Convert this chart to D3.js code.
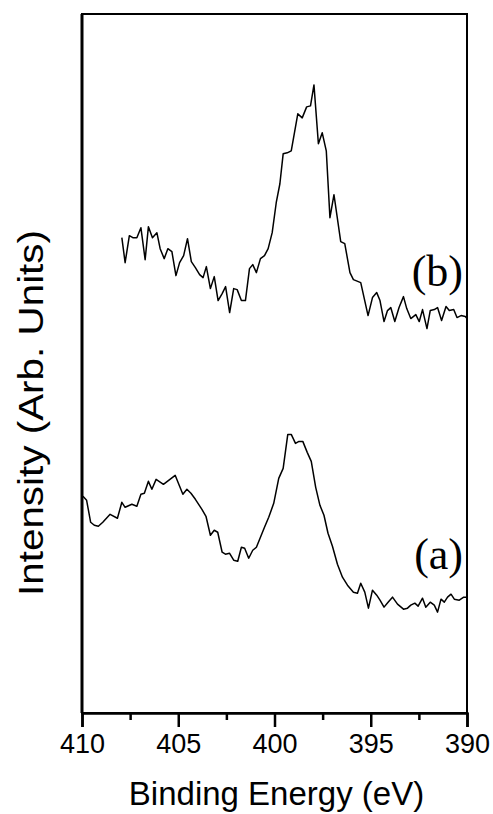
<!DOCTYPE html>
<html>
<head>
<meta charset="utf-8">
<script src="https://cdn.jsdelivr.net/npm/d3@7"></script>
<style>
  html, body { margin: 0; padding: 0; background: #fff; }
  svg { display: block; }
</style>
</head>
<body>
<svg id="chart" width="493" height="814"></svg>
<script>
// Binding energy (eV) and intensity (arb. units) for spectrum (b)
const energyB = [407.93,407.76,407.54,407.36,407.15,406.94,406.72,406.55,406.34,406.11,405.94,405.73,405.54,405.33,405.12,404.93,404.72,404.52,404.32,404.11,403.89,403.71,403.54,403.33,403.13,402.93,402.72,402.54,402.33,402.12,401.94,401.72,401.51,401.30,401.13,400.94,400.73,400.52,400.33,400.12,399.91,399.72,399.55,399.34,399.13,398.79,398.56,398.33,398.13,397.95,397.72,397.52,397.31,397.12,396.91,396.56,396.35,396.08,395.90,395.52,395.14,394.91,394.69,394.52,394.31,394.13,393.96,393.75,393.53,393.30,393.13,392.92,392.66,392.48,392.31,392.08,391.91,391.70,391.53,391.32,391.09,390.92,390.69,390.52,390.31,390.09,390.00];
const intensityB = [476,451,478,476,476,486,454,487,476,481,465,455,465,462,438,451,458,475,452,446,439,436,447,425,437,413,420,427,401,425,424,413,413,445,449,441,455,458,465,481,511,530,560,561,563,600,596,607,608,629,570,581,563,496,519,472,470,441,434,431,398,416,421,413,392,403,406,392,406,417,405,395,399,392,404,385,403,404,406,393,407,403,404,396,398,397,395];

// Spectrum (a)
const energyA = [409.95,409.76,409.55,409.36,409.15,408.92,408.54,408.16,407.93,407.76,407.41,407.15,406.94,406.76,406.55,406.37,406.15,405.77,405.16,404.95,404.76,404.55,404.34,404.11,403.77,403.56,403.33,403.13,402.95,402.72,402.55,402.34,402.12,401.91,401.72,401.55,401.34,401.13,400.94,400.73,400.52,400.30,400.04,399.78,399.55,399.31,399.13,398.91,398.73,398.53,398.30,398.09,397.86,397.64,397.43,397.22,396.99,396.73,396.47,396.21,395.90,395.69,395.52,395.31,395.12,394.91,394.69,394.52,394.31,394.10,393.87,393.61,393.30,393.09,392.92,392.71,392.54,392.31,392.14,391.91,391.70,391.53,391.35,391.18,391.01,390.83,390.66,390.40,390.17,390.00];
const intensityA = [217,213,191,188,187,191,199,195,211,206,209,207,219,220,232,224,234,229,238,228,219,224,220,214,204,197,178,183,181,161,159,160,153,152,166,165,155,163,166,176,186,196,210,235,245,279,279,270,272,272,261,252,226,208,198,180,167,149,136,128,121,120,130,121,105,123,118,113,106,111,116,109,104,105,108,110,107,115,106,111,108,101,114,111,116,119,114,113,116,116];

const xTicks = [410, 405, 400, 395, 390];
const xMinorTicks = [407.5, 402.5, 397.5, 392.5];
const spectra = [
  { label: "(b)", energy: energyB, intensity: intensityB },
  { label: "(a)", energy: energyA, intensity: intensityA }
];
const xTitle = "Binding Energy (eV)";
const yTitle = "Intensity (Arb. Units)";

const W = 493, H = 814;
const margin = { top: 14, right: 26, bottom: 101, left: 82 };
const iw = W - margin.left - margin.right;
const ih = H - margin.top - margin.bottom;

const svg = d3.select("#chart");
const g = svg.append("g").attr("transform", `translate(${margin.left},${margin.top})`);

const x = d3.scaleLinear().domain([410, 390]).range([0, iw]);
const y = d3.scaleLinear().domain([0, 700]).range([ih, 0]);

// Curves
const line = d3.line().x(d => x(d[0])).y(d => y(d[1]));
spectra.forEach(s => {
  const pts = s.energy.map((e, i) => [e, s.intensity[i]]);
  g.append("path")
    .datum(pts)
    .attr("fill", "none")
    .attr("stroke", "#000")
    .attr("stroke-width", 1.5)
    .attr("stroke-linejoin", "round")
    .attr("d", line);
});

// Frame
g.append("rect")
  .attr("x", 0).attr("y", 0).attr("width", iw).attr("height", ih)
  .attr("fill", "none").attr("stroke", "#000").attr("stroke-width", 2);
g.append("line")
  .attr("x1", 0).attr("x2", 0).attr("y1", 0).attr("y2", ih)
  .attr("stroke", "#000").attr("stroke-width", 3);

// X axis
const xAxis = d3.axisBottom(x).tickValues(xTicks).tickSize(14).tickPadding(7).tickFormat(d3.format("d"));
const ax = g.append("g").attr("transform", `translate(0,${ih})`).call(xAxis);
ax.select(".domain").attr("stroke-width", 2.5);
ax.selectAll(".tick line").attr("stroke-width", 2.5);
ax.selectAll(".tick text")
  .attr("font-family", "'Liberation Sans', Arial, sans-serif")
  .attr("font-size", 27)
  .attr("fill", "#000");
const axMinor = d3.axisBottom(x).tickValues(xMinorTicks).tickSize(7).tickFormat("");
const am = g.append("g").attr("transform", `translate(0,${ih})`).call(axMinor);
am.select(".domain").remove();
am.selectAll(".tick line").attr("stroke-width", 2.5);

// Labels
const labelY = { "(b)": 272, "(a)": 555 };
spectra.forEach(s => {
  g.append("text")
    .attr("x", iw - 4)
    .attr("y", labelY[s.label])
    .attr("text-anchor", "end")
    .attr("font-family", "'Liberation Serif', 'Times New Roman', serif")
    .attr("font-size", 44)
    .attr("fill", "#000")
    .text(s.label);
});

// Axis titles
svg.append("text")
  .attr("x", margin.left + iw / 2 + 2)
  .attr("y", 805)
  .attr("text-anchor", "middle")
  .attr("font-family", "'Liberation Sans', Arial, sans-serif")
  .attr("font-size", 33)
  .attr("fill", "#000")
  .text(xTitle);

svg.append("text")
  .attr("transform", `translate(43,413) rotate(-90)`)
  .attr("text-anchor", "middle")
  .attr("font-family", "'Liberation Sans', Arial, sans-serif")
  .attr("font-size", 35)
  .attr("textLength", 366)
  .attr("lengthAdjust", "spacingAndGlyphs")
  .attr("fill", "#000")
  .text(yTitle);
</script>
</body>
</html>
